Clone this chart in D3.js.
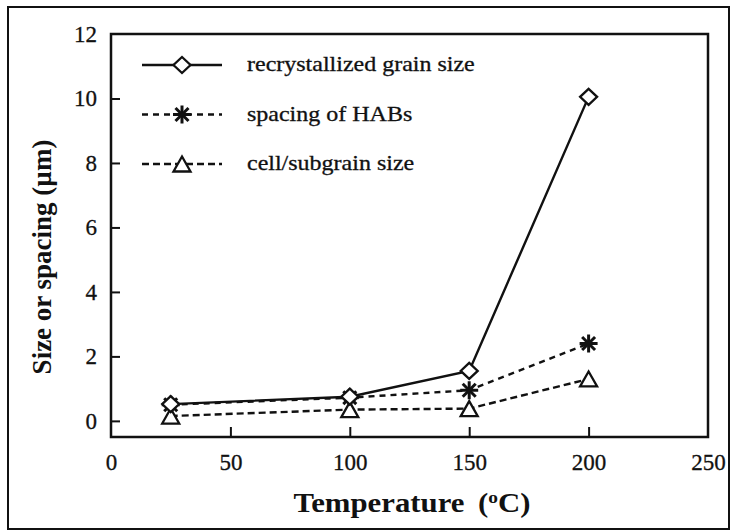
<!DOCTYPE html>
<html>
<head>
<meta charset="utf-8">
<script src="https://cdn.jsdelivr.net/npm/d3@7"></script>
<style>
  body { margin: 0; background: #fff; }
  svg { display: block; font-family: "Liberation Serif", "Times New Roman", serif; }
</style>
</head>
<body>
<svg id="chart" width="733" height="532"></svg>
<script>
// data
const temps = [25, 100, 150, 200];
const grainSize = [0.52, 0.75, 1.55, 10.05];
const habSpacing = [0.5, 0.72, 0.95, 2.4];
const cellSize = [0.15, 0.35, 0.38, 1.3];

const xTicks = [0, 50, 100, 150, 200, 250];
const yTicks = [0, 2, 4, 6, 8, 10, 12];

const seriesNames = ["recrystallized grain size", "spacing of HABs", "cell/subgrain size"];

const ink = "#111";
const svg = d3.select("#chart");

// outer border of the figure
svg.append("rect")
  .attr("x", 8).attr("y", 7)
  .attr("width", 721).attr("height", 522)
  .attr("fill", "none").attr("stroke", ink).attr("stroke-width", 2);

const x = d3.scaleLinear().domain([0, 250]).range([111, 708]);
const y = d3.scaleLinear().domain([-0.5, 12]).range([437, 34]);

// axes, ticks pointing inward
const yAxis = svg.append("g")
  .attr("transform", `translate(${x(0)},0)`)
  .call(d3.axisLeft(y).tickValues(yTicks).tickSize(-9).tickPadding(14));

const xAxis = svg.append("g")
  .attr("transform", `translate(0,${y.range()[0]})`)
  .call(d3.axisBottom(x).tickValues(xTicks).tickSize(-10).tickPadding(17));

[xAxis, yAxis].forEach(g => {
  g.select(".domain").remove();
  g.selectAll("line").attr("stroke", ink).attr("stroke-width", 2);
  g.selectAll("text")
    .attr("fill", ink)
    .attr("stroke", ink).attr("stroke-width", 0.3)
    .style("font-family", "'Liberation Serif', serif")
    .style("font-size", "23px");
});
// top tick coincides with the frame
yAxis.selectAll(".tick").filter(d => d === 12).select("line").remove();
xAxis.selectAll(".tick").filter(d => d === 0 || d === 250).select("line").remove();

// plot frame
svg.append("rect")
  .attr("x", x(0)).attr("y", y(12))
  .attr("width", x(250) - x(0)).attr("height", y(-0.5) - y(12))
  .attr("fill", "none").attr("stroke", ink).attr("stroke-width", 2.5);

// marker drawing helpers
function diamond(g, cx, cy) {
  g.append("path")
    .attr("d", `M${cx},${cy - 8}L${cx + 8.5},${cy}L${cx},${cy + 8}L${cx - 8.5},${cy}Z`)
    .attr("fill", "#fff").attr("stroke", ink).attr("stroke-width", 2.3);
}
function star(g, cx, cy) {
  const r = 9;
  [[r, 0], [0, r], [r * 0.72, r * 0.72], [r * 0.72, -r * 0.72]].forEach(([dx, dy]) => {
    g.append("line")
      .attr("x1", cx - dx).attr("y1", cy - dy)
      .attr("x2", cx + dx).attr("y2", cy + dy)
      .attr("stroke", ink).attr("stroke-width", 3);
  });
}
function triangle(g, cx, cy) {
  g.append("path")
    .attr("d", `M${cx},${cy - 7.5}L${cx + 8.5},${cy + 7.5}L${cx - 8.5},${cy + 7.5}Z`)
    .attr("fill", "#fff").attr("stroke", ink).attr("stroke-width", 2.3);
}

const series = [
  { values: grainSize, dash: null, marker: diamond },
  { values: habSpacing, dash: "6,5", marker: star },
  { values: cellSize, dash: "7,4", marker: triangle }
];

const line = d3.line().x(d => x(d[0])).y(d => y(d[1]));

// lines (dashed first, solid on top)
[2, 1, 0].forEach(i => {
  const s = series[i];
  svg.append("path")
    .attr("d", line(temps.map((t, j) => [t, s.values[j]])))
    .attr("fill", "none")
    .attr("stroke", ink)
    .attr("stroke-width", 2.4)
    .attr("stroke-dasharray", s.dash);
});

// markers: stars, then triangles, then diamonds
const markers = svg.append("g");
[1, 2, 0].forEach(i => {
  const s = series[i];
  temps.forEach((t, j) => s.marker(markers, x(t), y(s.values[j])));
});

// legend
const legendRows = [65, 114.5, 164];
const legend = svg.append("g");
series.forEach((s, i) => {
  const ly = legendRows[i];
  legend.append("line")
    .attr("x1", 142).attr("x2", 222)
    .attr("y1", ly).attr("y2", ly)
    .attr("stroke", ink).attr("stroke-width", 2.4)
    .attr("stroke-dasharray", s.dash);
  s.marker(legend, 182, ly);
  legend.append("text")
    .attr("transform", `translate(247,${ly + 6}) scale(1.2,1)`)
    .attr("fill", ink)
    .attr("stroke", ink).attr("stroke-width", 0.3)
    .style("font-size", "20px")
    .text(seriesNames[i]);
});

// axis titles
const xTitle = svg.append("text")
  .attr("transform", "translate(412,512) scale(1.14,1)")
  .attr("text-anchor", "middle")
  .attr("fill", ink)
  .style("font-size", "27px")
  .style("font-weight", "bold");
xTitle.append("tspan").text("Temperature");
xTitle.append("tspan").attr("dx", 12).text("(");
xTitle.append("tspan").attr("dy", -9).style("font-size", "17px").text("o");
xTitle.append("tspan").attr("dy", 9).text("C)");

svg.append("text")
  .attr("transform", "translate(51,257) rotate(-90)")
  .attr("text-anchor", "middle")
  .attr("fill", ink)
  .style("font-size", "27px")
  .style("font-weight", "bold")
  .text("Size or spacing (\u00b5m)");
</script>
</body>
</html>
